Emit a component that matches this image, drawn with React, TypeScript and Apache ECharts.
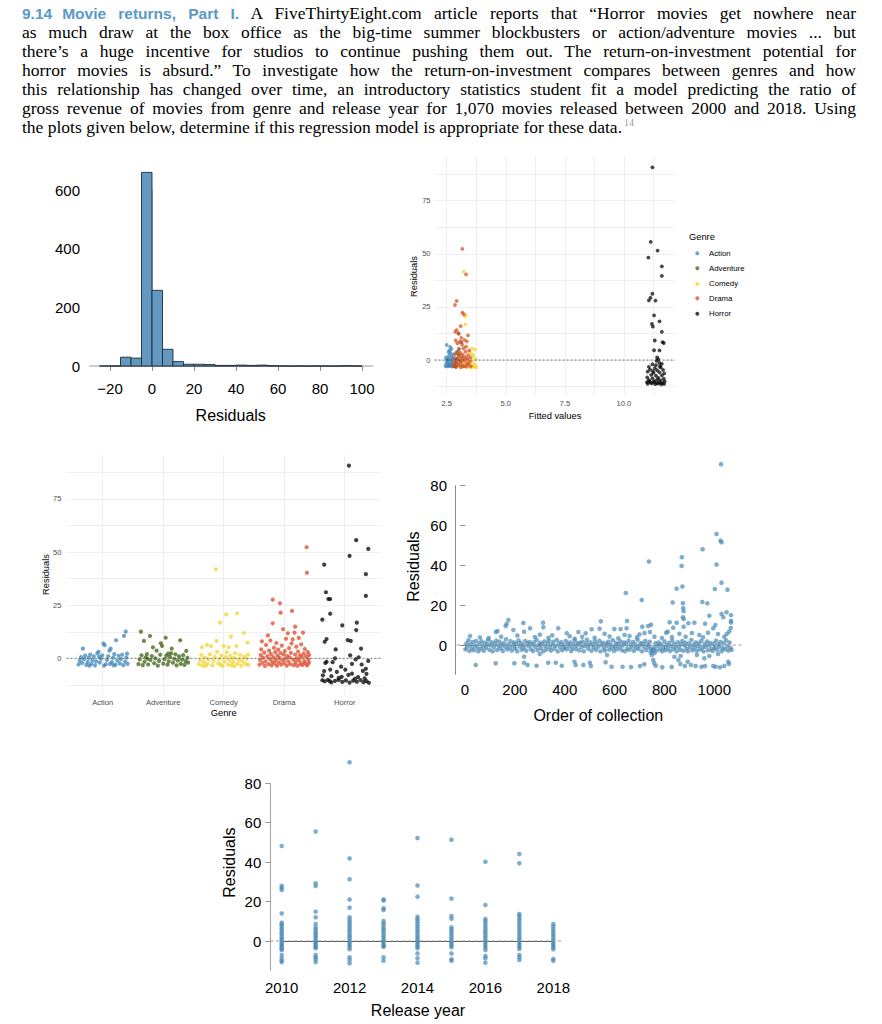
import React, { useEffect, useRef } from 'react';
import * as echarts from 'echarts';

const SANS = '"Liberation Sans", Arial, Helvetica, sans-serif';
const SERIF = '"Liberation Serif", "Times New Roman", serif';

// ---------------- Paragraph text ----------------
const HEADING_NUM = '9.14';
const HEADING_TITLE = 'Movie returns, Part I.';
const PARA_FIRST = 'A FiveThirtyEight.com article reports that \u201CHorror movies get nowhere near';
const PARA_LINES = [
  'as much draw at the box office as the big-time summer blockbusters or action/adventure movies ... but',
  'there\u2019s a huge incentive for studios to continue pushing them out. The return-on-investment potential for',
  'horror movies is absurd.\u201D To investigate how the return-on-investment compares between genres and how',
  'this relationship has changed over time, an introductory statistics student fit a model predicting the ratio of',
  'gross revenue of movies from genre and release year for 1,070 movies released between 2000 and 2018. Using',
];
const PARA_LAST = 'the plots given below, determine if this regression model is appropriate for these data.';
const FOOTNOTE = '14';

// ---------------- Histogram ----------------
const HIST_EDGES = [-25, -20, -15, -10, -5, 0, 5, 10, 15, 20, 25, 30, 35, 40, 45, 50, 55, 60, 65, 70, 75, 80, 85, 90, 95, 100];
const HIST_COUNTS = [0, 0, 30, 27, 660, 258, 57, 15, 6, 6, 5, 2, 2, 3, 2, 3, 1, 0, 0, 0, 0, 0, 0, 1, 0];
const HIST_BASELINE = [[-30, 0], [105.4, 0]];

// ---------------- Genres ----------------
const GENRES = ['Action', 'Adventure', 'Comedy', 'Drama', 'Horror'];
const GENRE_COLORS = ['#3d87b8', '#3f6312', '#f0d530', '#dd4a28', '#000000'];

// Fitted values vs residuals: [fitted, residual]
const FIT_ACTION = [[2.45, -2.8], [2.48, -1.5], [2.5, 0.2], [2.47, 1.2], [2.52, -3.0], [2.55, -2.2], [2.56, -0.8], [2.58, 0.9], [2.6, 2.1], [2.62, -2.9], [2.63, -1.6], [2.65, 0.3], [2.66, 3.2], [2.68, -2.4], [2.7, -0.5], [2.72, 1.5], [2.73, -3.1], [2.75, -1.9], [2.76, 0.6], [2.78, 2.6], [2.8, -2.6], [2.82, -1.1], [2.5, 7.1], [2.65, 6.2], [2.62, 4.5], [2.7, 5.2], [2.58, 3.8], [2.85, -2.8], [2.88, 0.4], [2.53, -0.3], [2.6, -2.5], [2.74, -2.7]];
const FIT_ADVENTURE = [[2.85, -2.9], [2.9, -1.2], [2.95, 0.8], [3.0, 2.4], [3.05, -2.2], [3.1, -0.4], [3.15, 1.6], [3.2, -3.0], [2.92, 3.6], [3.02, 5.2], [3.12, 8.4], [3.0, 12.4], [3.18, -2.6], [2.88, -3.2], [3.08, 0.2]];
const FIT_COMEDY = [[3.0, -3.0], [3.05, -1.8], [3.1, 0.5], [3.15, 2.2], [3.2, -2.6], [3.25, -0.9], [3.3, 1.3], [3.35, -3.3], [3.4, -1.4], [3.45, 0.2], [3.5, 2.8], [3.55, -2.5], [3.6, -0.6], [3.62, 1.7], [3.65, -3.2], [3.68, -1.9], [3.72, 0.4], [3.75, -3.5], [3.7, -2.8], [3.58, 5.5], [3.7, 4.9], [3.48, 3.8], [3.22, 41.6], [3.27, 20.6], [3.3, 21.0], [3.29, 16.8], [3.35, 6.4], [3.52, -3.6], [3.42, -2.8], [3.6, 2.6]];
const FIT_DRAMA = [[2.78, -2.9], [2.8, -1.0], [2.84, 0.9], [2.86, 2.8], [2.9, -3.2], [2.92, -1.8], [2.95, 0.3], [2.98, 4.1], [3.0, -2.4], [3.02, -0.6], [3.05, 1.8], [3.08, 3.4], [3.1, -3.4], [3.12, -1.3], [3.15, 0.7], [3.18, 2.5], [3.2, 5.4], [3.22, -2.7], [3.25, -0.2], [3.28, 1.3], [3.3, 3.9], [3.32, -3.1], [3.35, -1.6], [3.38, 0.5], [3.4, 2.2], [3.42, -2.0], [3.45, 4.5], [3.48, -0.9], [3.5, 1.1], [3.52, -3.0], [2.95, 7.8], [3.05, 8.6], [3.15, 7.2], [3.35, 8.8], [3.25, 9.5], [3.4, 11.6], [2.92, 14.1], [2.86, 13.3], [3.0, 12.5], [3.09, 16.0], [3.16, 22.3], [3.22, 21.6], [2.92, 27.8], [2.85, 25.9], [3.16, 52.3], [3.32, 40.3], [3.12, 10.4], [2.88, 9.2], [3.3, 6.2]];
const FIT_HORROR = [[11.2, 90.7], [11.13, 55.6], [11.42, 51.5], [11.03, 48.2], [11.6, 44.1], [11.6, 39.6], [11.2, 31.2], [11.12, 29.3], [11.05, 28.1], [11.33, 28.0], [11.27, 21.0], [11.18, 17.0], [11.22, 15.7], [11.5, 18.2], [11.6, 13.3], [11.3, 9.2], [11.63, 8.4], [11.68, 8.0], [11.27, 4.6], [11.5, 4.5], [11.4, 1.2], [11.45, 0.3], [11.38, -0.4], [11.5, -1.4], [11.6, -1.8], [11.2, -2.0], [11.05, -3.2], [11.3, -3.8], [11.55, -3.5], [11.1, -4.5], [11.4, -4.8], [11.65, -4.6], [11.0, -5.5], [11.25, -6.0], [11.5, -5.8], [11.7, -6.3], [11.15, -7.0], [11.35, -7.4], [11.6, -7.2], [10.98, -8.2], [11.2, -8.6], [11.45, -8.4], [11.68, -8.8], [11.05, -9.5], [11.3, -9.8], [11.55, -9.6], [11.72, -10.0], [10.97, -10.4], [11.12, -10.6], [11.25, -10.3], [11.38, -10.8], [11.5, -10.5], [11.62, -10.9], [11.0, -11.2], [11.18, -11.0], [11.32, -11.3], [11.45, -11.1], [11.58, -11.4], [11.7, -11.2], [11.08, -10.0], [11.42, -9.2], [11.22, -5.2], [11.52, -3.0], [11.35, -2.4]];
const FIT_DATA = [FIT_ACTION, FIT_ADVENTURE, FIT_COMEDY, FIT_DRAMA, FIT_HORROR];

// Residuals by genre: [jitter offset from genre position, residual]
const GEN_ACTION = [[-0.40, -2.9], [-0.38, -1.2], [-0.36, 0.6], [-0.34, -2.2], [-0.33, 4.6], [-0.31, -0.4], [-0.29, 1.3], [-0.27, -3.1], [-0.25, -1.7], [-0.23, 0.2], [-0.21, 1.8], [-0.19, -2.6], [-0.17, -0.9], [-0.15, 0.9], [-0.13, -3.3], [-0.11, -1.4], [-0.09, 2.3], [-0.07, 3.1], [-0.05, -2.0], [-0.03, -0.2], [-0.01, 1.4], [0.01, 7.0], [0.03, 6.2], [0.05, -2.8], [0.07, -0.7], [0.09, 1.0], [0.11, 3.6], [0.13, 4.6], [0.15, -1.8], [0.17, 0.3], [0.19, 2.0], [0.21, -3.0], [0.22, 8.5], [0.24, -1.0], [0.26, 1.2], [0.28, -2.4], [0.30, -0.3], [0.32, 1.7], [0.34, -3.2], [0.35, 10.6], [0.37, -1.5], [0.38, 12.6], [0.39, 0.4], [0.41, -2.6], [0.40, 2.2], [-0.22, -3.5], [0.02, -3.4], [0.18, -3.3], [-0.06, 0.7], [0.12, -2.6]];
const GEN_ADVENTURE = [[-0.41, -2.7], [-0.39, -0.5], [-0.37, 12.6], [-0.36, 1.4], [-0.34, -3.2], [-0.32, 8.2], [-0.31, -1.6], [-0.29, 0.5], [-0.27, 2.0], [-0.25, -2.9], [-0.22, 10.5], [-0.21, -0.8], [-0.19, 1.1], [-0.17, 5.2], [-0.15, -2.3], [-0.13, 0.0], [-0.11, 3.6], [-0.09, -3.4], [-0.07, -1.2], [-0.05, 1.7], [-0.04, 7.1], [-0.02, 5.8], [0.00, -2.5], [0.02, -0.4], [0.04, 9.7], [0.05, 1.3], [0.07, -3.0], [0.09, -1.4], [0.11, 0.7], [0.13, 2.4], [0.14, 4.6], [0.16, -2.1], [0.18, -0.2], [0.20, 1.9], [0.22, -3.3], [0.24, -1.0], [0.26, 0.9], [0.28, 8.5], [0.29, -2.6], [0.31, -0.6], [0.33, 1.5], [0.35, -3.1], [0.37, -1.3], [0.38, 3.5], [0.40, 0.3], [0.41, -2.0], [-0.26, -0.2], [0.08, 2.2]];
const GEN_COMEDY = [[-0.41, -2.8], [-0.39, -0.9], [-0.37, 1.6], [-0.36, 5.2], [-0.35, -3.4], [-0.33, -1.7], [-0.31, 0.4], [-0.28, 6.3], [-0.27, -2.6], [-0.25, -0.5], [-0.23, 1.9], [-0.21, 5.8], [-0.19, -3.2], [-0.17, -1.2], [-0.15, 0.8], [-0.13, 41.9], [-0.12, 8.2], [-0.11, 3.1], [-0.09, -2.4], [-0.07, -0.3], [-0.06, 16.8], [-0.04, 1.4], [-0.02, -3.6], [0.00, 5.8], [0.01, -1.5], [0.03, 0.6], [0.04, 20.7], [0.05, 2.8], [0.07, -2.9], [0.08, 5.2], [0.09, -0.8], [0.11, 1.2], [0.12, 10.2], [0.13, -3.3], [0.15, -1.8], [0.17, 0.2], [0.19, 2.4], [0.21, 5.8], [0.22, 21.2], [0.23, -2.5], [0.25, -0.6], [0.27, 1.5], [0.29, -3.5], [0.31, -1.4], [0.33, 11.9], [0.34, 0.7], [0.36, -2.7], [0.38, -0.2], [0.39, 7.4], [0.40, 1.8], [0.41, -3.1], [-0.3, -3.6], [0.18, -3.7], [-0.05, -3.0]];
const GEN_DRAMA = [[-0.41, -3.0], [-0.40, -0.8], [-0.39, 1.5], [-0.38, 4.2], [-0.37, 8.0], [-0.36, -2.2], [-0.35, 0.3], [-0.33, 2.7], [-0.32, -3.6], [-0.31, -1.4], [-0.30, 6.3], [-0.28, 1.0], [-0.27, 10.8], [-0.26, -2.7], [-0.25, 3.6], [-0.24, -0.3], [-0.23, 8.4], [-0.22, 2.0], [-0.21, -3.3], [-0.20, -1.6], [-0.19, 27.6], [-0.19, 16.5], [-0.18, 0.6], [-0.17, 5.0], [-0.16, -2.4], [-0.15, 2.9], [-0.14, -0.7], [-0.13, 7.2], [-0.12, -3.5], [-0.11, 1.3], [-0.10, 4.1], [-0.09, -1.9], [-0.08, 0.2], [-0.07, 25.9], [-0.06, 21.5], [-0.06, 2.5], [-0.05, -3.0], [-0.04, 6.0], [-0.03, -0.9], [-0.02, 13.7], [-0.01, 1.7], [0.00, -2.2], [0.01, 3.4], [0.02, -0.2], [0.03, 9.2], [0.04, -3.4], [0.05, 1.1], [0.06, 11.8], [0.07, -1.5], [0.08, 4.8], [0.09, 0.4], [0.10, -2.8], [0.11, 2.6], [0.12, 7.0], [0.13, 22.3], [0.14, 8.9], [0.15, -0.6], [0.16, -3.2], [0.17, 12.1], [0.18, 14.9], [0.18, 1.8], [0.19, -1.8], [0.20, 5.5], [0.21, 0.0], [0.22, -3.5], [0.23, 3.2], [0.24, 9.6], [0.25, -1.0], [0.26, 1.4], [0.27, -2.6], [0.28, 6.6], [0.29, 0.7], [0.30, -3.1], [0.31, 12.1], [0.32, 2.3], [0.33, -1.3], [0.34, 4.4], [0.35, -2.4], [0.36, 0.9], [0.37, 52.3], [0.375, 40.3], [0.38, -3.3], [0.39, 3.0], [0.40, -0.5], [0.41, -2.0], [0.41, 1.6]];
const GEN_HORROR = [[0.07, 90.7], [0.19, 55.6], [0.39, 51.5], [0.08, 48.2], [-0.34, 44.1], [0.35, 39.6], [-0.31, 31.1], [-0.27, 27.9], [-0.24, 27.9], [0.35, 29.4], [-0.24, 21.0], [-0.37, 18.2], [-0.04, 15.5], [0.20, 16.8], [0.19, 13.3], [-0.33, 7.8], [-0.30, 9.1], [0.05, 8.6], [0.10, 8.2], [-0.15, 4.2], [0.27, 4.6], [0.09, 1.4], [-0.16, 0.0], [0.23, 0.5], [0.18, -0.5], [-0.30, -1.6], [-0.32, -2.2], [-0.20, -1.8], [-0.06, -3.9], [0.12, -2.6], [0.35, -4.9], [-0.34, -6.0], [-0.24, -5.3], [-0.13, -6.4], [0.01, -5.3], [0.12, -7.2], [0.30, -5.9], [0.36, -7.3], [-0.36, -8.0], [-0.22, -8.4], [-0.05, -8.7], [0.06, -7.8], [0.22, -8.8], [-0.37, -10.3], [-0.33, -10.8], [-0.28, -10.1], [-0.22, -11.3], [-0.16, -10.6], [-0.10, -10.2], [-0.04, -11.1], [0.02, -10.4], [0.08, -11.4], [0.14, -10.5], [0.20, -11.0], [0.26, -10.2], [0.31, -11.2], [0.36, -10.7], [0.40, -11.5], [-0.25, -10.7], [0.17, -9.6], [0.33, -9.4], [-0.1, -9.2], [0.28, -2.9], [0.39, -1.2]];
const GEN_DATA = [GEN_ACTION, GEN_ADVENTURE, GEN_COMEDY, GEN_DRAMA, GEN_HORROR];

// Residuals vs order of collection: [order, residual]
const ORDER_BAND = [[2, -2.2], [6, 0.9], [10, -0.8], [14, 2.4], [18, -3.0], [22, 0.2], [27, -1.6], [31, 1.5], [35, -2.6], [40, -0.3], [44, 2.0], [49, -1.2], [53, -3.2], [57, 0.8], [62, -2.0], [66, 1.8], [71, -0.6], [75, -2.9], [80, 1.1], [84, -1.4], [89, 0.3], [93, 2.6], [98, -2.4], [102, -0.1], [107, 1.4], [111, -3.1], [116, -1.0], [120, 0.7], [125, 2.2], [129, -2.5], [134, -0.4], [138, 1.6], [143, -1.8], [147, 0.1], [152, -3.0], [156, 1.0], [161, -0.9], [165, 2.9], [170, -2.2], [174, 0.4], [179, -1.3], [183, 1.9], [188, -2.8], [192, -0.2], [197, 1.2], [201, -1.7], [206, 0.6], [210, -3.2], [215, 2.3], [219, -0.7], [224, 1.0], [228, -2.4], [233, 0.0], [237, -1.5], [242, 2.0], [246, -2.9], [251, 0.8], [255, -0.5], [260, 1.5], [264, -2.1], [269, 0.3], [273, -3.0], [278, 1.3], [282, -0.9], [287, 2.7], [291, -2.5], [296, -0.1], [300, 1.1], [305, -1.6], [309, 0.5], [314, -3.1], [318, 1.8], [323, -0.6], [327, -2.3], [332, 0.9], [336, 2.2], [341, -1.2], [345, -2.8], [350, 0.2], [354, 1.6], [359, -1.9], [363, -0.4], [368, 2.5], [372, -3.2], [377, 0.7], [381, -1.1], [386, 1.4], [390, -2.6], [395, 0.0], [399, -1.4], [404, 2.0], [408, -2.2], [413, 0.6], [417, -0.8], [422, 1.2], [426, -3.0], [431, -1.5], [435, 0.4], [440, 2.3], [444, -2.0], [449, -0.3], [453, 1.0], [458, -2.7], [462, 0.9], [467, -1.0], [471, 1.7], [476, -3.1], [480, -0.5], [485, 0.7], [489, 2.6], [494, -1.8], [498, -0.1], [503, 1.3], [507, -2.9], [512, 0.2], [516, -1.2], [521, 1.9], [525, -2.4], [530, 0.5], [534, -0.9], [539, 2.2], [543, -3.2], [548, 0.0], [552, 1.1], [557, -1.6], [561, -2.8], [566, 0.8], [570, -0.4], [575, 1.6], [579, -2.3], [584, 0.3], [588, -1.4], [593, 2.4], [597, -3.0], [602, -0.6], [606, 1.0], [611, -2.1], [615, 0.5], [620, -1.0], [624, 1.8], [629, -2.6], [633, -0.2], [638, 1.3], [642, -3.1], [647, 0.6], [651, -1.7], [656, 2.1], [660, -2.4], [665, 0.1], [669, -0.9], [674, 1.5], [678, -2.9], [683, 0.4], [687, -1.3], [692, 2.6], [696, -2.0], [701, -0.3], [705, 1.0], [710, -3.2], [714, 0.7], [719, -1.1], [723, 2.0], [728, -2.5], [732, 0.2], [737, -0.7], [741, 1.6], [746, -1.9], [750, -3.0], [755, -2.5], [759, -1.5], [764, 0.9], [768, -2.8], [773, -0.4], [777, 1.2], [782, -2.2], [786, 0.3], [791, -3.1], [795, -1.2], [800, 1.8], [804, -2.6], [809, 0.0], [813, -1.6], [818, 1.0], [822, -3.0], [827, -0.5], [831, 2.3], [836, -2.1], [840, 0.6], [845, -1.1], [849, -3.2], [854, 1.4], [858, -0.8], [863, -2.4], [867, 0.4], [872, 2.0], [876, -2.9], [881, -0.2], [885, 1.1], [890, -1.8], [894, -3.1], [899, 0.8], [903, -1.0], [908, 2.5], [912, -2.6], [917, 0.1], [921, -1.5], [926, 1.3], [930, -3.0], [935, -0.6], [939, 0.9], [944, -2.2], [948, 2.1], [953, -1.3], [957, -3.2], [962, 0.5], [966, -0.9], [971, 1.7], [975, -2.7], [980, -0.1], [984, 1.0], [989, -1.9], [993, -3.0], [998, 0.7], [1002, -1.2], [1007, 2.2], [1011, -2.4], [1016, 0.3], [1020, -0.8], [1025, 1.5], [1029, -3.1], [1034, -1.6], [1038, 0.9], [1043, -2.2], [1047, 2.4], [1052, -0.5], [1056, -2.8], [1061, 1.2], [1065, -1.4], [1069, -2.5]];
const ORDER_SPREAD = [[174, 12.6], [167, 10.6], [163, 9.5], [130, 7.0], [124, 6.5], [234, 11.1], [313, 11.2], [314, 8.9], [261, 8.4], [237, 6.7], [194, 7.5], [374, 8.4], [408, 5.9], [455, 6.5], [484, 5.9], [545, 11.9], [540, 8.2], [508, 7.9], [599, 8.0], [624, 8.0], [650, 12.1], [648, 8.4], [711, 9.2], [735, 9.5], [746, 10.2], [813, 6.7], [896, 10.9], [996, 8.4], [20, 4.5], [60, 3.8], [95, 3.5], [145, 4.2], [210, 4.8], [280, 4.0], [300, 5.2], [335, 3.6], [350, 4.9], [420, 4.4], [440, 3.2], [470, 4.1], [520, 3.6], [560, 5.6], [580, 4.3], [615, 3.4], [640, 5.0], [660, 4.5], [690, 3.9], [700, 5.3], [720, 6.0], [742, 6.5], [760, 4.2], [790, 3.5], [830, 4.0], [860, 5.6], [885, 4.2], [910, 6.0], [940, 5.0], [955, 3.9], [975, 6.2], [1015, 5.5], [1040, 4.2], [1060, 6.8], [1066, 8.5], [1050, 5.5], [1027, 90.8], [1009, 55.8], [1025, 52.4], [1029, 51.6], [953, 48.1], [870, 44.1], [869, 39.7], [738, 41.9], [1009, 40.4], [1029, 31.3], [849, 28.3], [872, 29.4], [1002, 28.1], [1053, 27.8], [645, 26.1], [709, 22.6], [952, 21.6], [972, 20.9], [874, 21.0], [833, 21.4], [875, 18.4], [877, 17.0], [980, 14.7], [1029, 15.6], [1049, 16.4], [1067, 15.0], [877, 13.1], [874, 13.9], [1036, 13.9], [1004, 10.1], [877, 9.2], [920, 11.2], [963, 10.7], [1067, 12.2], [1067, 11.3], [849, 11.2], [821, 11.4], [835, 8.7], [807, 6.2], [43, -10.0], [123, -9.2], [198, -9.2], [237, -5.9], [237, -8.9], [251, -10.0], [287, -10.4], [334, -8.9], [364, -8.9], [388, -10.4], [439, -8.4], [444, -10.0], [475, -10.0], [501, -8.9], [505, -10.6], [564, -8.7], [588, -10.9], [632, -10.9], [666, -11.1], [702, -10.6], [719, -9.7], [749, -5.0], [755, -7.5], [759, -9.2], [765, -10.4], [791, -11.2], [829, -11.0], [840, -5.9], [856, -7.5], [864, -9.5], [865, -5.5], [882, -10.6], [893, -8.4], [906, -10.0], [925, -10.6], [949, -10.9], [960, -6.7], [963, -10.6], [996, -10.6], [1005, -10.9], [1023, -11.2], [1056, -8.4], [1059, -9.5], [1040, -10.5], [1015, -4.5], [930, -5.0], [760, -4.0], [745, -3.8], [980, -5.5], [570, -5.0], [300, -4.5]];

// Residuals vs release year
const YEARS = [2010, 2011, 2012, 2013, 2014, 2015, 2016, 2017, 2018];
const YEAR_RESIDUALS = [
  [48.2, 28.0, 27.0, 25.9, 14.0, 9.3, 8.4, 7.6, 6.3, 5.5, 4.2, 3.4, 2.1, 1.3, 0.2, -0.6, -1.5, -2.4, -3.2, -4.1, -4.6, -7.1, -8.8, -10.0, -10.7],
  [55.5, 29.3, 27.9, 14.9, 12.0, 8.6, 6.9, 5.8, 4.6, 3.7, 2.5, 1.6, 0.4, -0.5, -1.4, -2.3, -3.1, -3.7, -7.1, -8.3, -9.3, -10.7],
  [90.7, 41.9, 31.3, 21.1, 16.9, 12.0, 10.8, 9.5, 8.3, 7.1, 5.9, 4.8, 3.6, 2.4, 1.3, 0.1, -0.9, -2.0, -3.1, -4.2, -8.3, -9.6, -11.3],
  [21.1, 20.5, 16.6, 15.7, 10.1, 9.0, 7.8, 6.5, 5.4, 4.2, 3.0, 1.9, 0.7, -0.4, -1.5, -2.5, -2.9, -8.3, -10.0],
  [52.2, 28.1, 22.5, 12.3, 11.2, 10.0, 8.7, 7.5, 6.2, 5.1, 3.9, 2.7, 1.6, 0.5, -0.6, -1.8, -2.8, -3.7, -6.3, -8.8, -11.0],
  [51.4, 21.5, 12.7, 11.3, 6.9, 5.8, 4.7, 3.5, 2.3, 1.1, 0.0, -1.1, -2.2, -3.2, -6.3, -9.3, -10.0],
  [40.2, 18.3, 11.2, 10.1, 8.9, 7.6, 6.4, 5.2, 4.0, 2.8, 1.6, 0.4, -0.8, -2.0, -3.3, -4.6, -7.6, -8.8, -11.0],
  [44.1, 39.4, 13.7, 12.8, 11.6, 10.4, 9.1, 7.9, 6.6, 5.4, 4.1, 2.9, 1.7, 0.5, -0.7, -1.9, -3.1, -4.0, -7.1, -8.3, -9.6],
  [8.6, 7.4, 6.1, 4.9, 3.7, 2.5, 1.3, 0.1, -1.0, -2.1, -3.2, -4.2, -9.1, -10.0],
];

const LEGEND_Y = [253.3, 268.3, 283.7, 298.3, 313.7];
const POINT_BLUE = '#4a8ab5';

function axisFmtMinus(v: number) {
  return v < 0 ? '\u2212' + Math.abs(v) : String(v);
}

function titleText(text: string, x: number, y: number, size: number, rotate = false) {
  return {
    type: 'text',
    x,
    y,
    rotation: rotate ? Math.PI / 2 : 0,
    silent: true,
    style: { text, fontSize: size, fontFamily: SANS, fill: '#000', align: 'center', verticalAlign: 'middle' },
  };
}

function scatter(name: string, data: number[][], idx: number, color: string, size: number, opacity: number, z = 3) {
  return {
    type: 'scatter',
    name,
    data,
    xAxisIndex: idx,
    yAxisIndex: idx,
    symbolSize: size,
    itemStyle: { color, opacity },
    clip: false,
    silent: true,
    z,
  };
}

// Reference line drawn through the axis scales (custom series so the dash pattern is exact)
function refLine(ends: number[][], idx: number, color: string, width: number, dash: number[] | null, z = 6) {
  return {
    type: 'custom',
    xAxisIndex: idx,
    yAxisIndex: idx,
    data: [[ends[0][0], ends[0][1], ends[1][0], ends[1][1]]],
    silent: true,
    z,
    renderItem: (params: any, api: any) => {
      const a = api.coord([api.value(0), api.value(1)]);
      const b = api.coord([api.value(2), api.value(3)]);
      return {
        type: 'line',
        shape: { x1: a[0], y1: a[1], x2: b[0], y2: b[1] },
        style: { stroke: color, lineWidth: width, lineDash: dash || undefined, fill: null },
      };
    },
  };
}

const ggTick = { fontSize: 7.6, color: '#4d4d4d', fontFamily: SANS };
const ggGrid = { show: true, lineStyle: { color: '#ebebeb', width: 0.8 } };
const baseLabel = { fontSize: 15, color: '#000', fontFamily: SANS };

function buildOption() {
  const grids = [
    { left: 110, top: 190, width: 252, height: 176 }, // 0 histogram
    { left: 434.6, top: 174.1, width: 240.5, height: 212.5 }, // 1 fitted (h lines + data)
    { left: 446.7, top: 156.5, width: 206.8, height: 238.5 }, // 2 fitted (v lines)
    { left: 66.5, top: 472.4, width: 314.5, height: 212.5 }, // 3 genre (h lines + data)
    { left: 102.7, top: 455, width: 242, height: 239 }, // 4 genre (v lines)
    { left: 465, top: 485.7, width: 249.3, height: 159.3 }, // 5 order
    { left: 455, top: 485.7, width: 1, height: 188.6 }, // 6 order y-axis line
    { left: 281.7, top: 783.3, width: 271.6, height: 157.7 }, // 7 year
    { left: 270.3, top: 783.3, width: 1, height: 187.4 }, // 8 year y-axis line
  ].map((g) => ({ ...g, containLabel: false, outerBoundsMode: 'none', show: false }));

  const hidden = (gi: number, min: number, max: number) => ({ gridIndex: gi, type: 'value', show: false, min, max, splitLine: { show: false } });

  const xAxis: any[] = [
    {
      gridIndex: 0, type: 'value', min: -20, max: 100, interval: 20, offset: 9,
      axisLine: { show: true, lineStyle: { color: '#8c8c8c', width: 1 } },
      axisTick: { show: true, length: 5, lineStyle: { color: '#8c8c8c' } },
      axisLabel: { ...baseLabel, margin: 6, formatter: axisFmtMinus },
      splitLine: { show: false },
    },
    hidden(1, 1.988, 12.16),
    {
      gridIndex: 2, type: 'value', min: 2.5, max: 11.25, interval: 1.25,
      axisLine: { show: false }, axisTick: { show: false },
      axisLabel: { ...ggTick, margin: 4, formatter: (v: number) => (Math.abs(v / 2.5 - Math.round(v / 2.5)) < 1e-6 ? v.toFixed(1) : '') },
      splitLine: ggGrid,
    },
    hidden(3, 0.4, 5.6),
    {
      gridIndex: 4, type: 'value', min: 1, max: 5, interval: 1,
      axisLine: { show: false }, axisTick: { show: false },
      axisLabel: { ...ggTick, margin: 4, formatter: (v: number) => GENRES[Math.round(v) - 1] || '' },
      splitLine: ggGrid,
    },
    {
      gridIndex: 5, type: 'value', min: 0, max: 1000, interval: 200, offset: 30.5,
      axisLine: { show: true, lineStyle: { color: '#aaaaaa', width: 1 } },
      axisTick: { show: true, length: 5, lineStyle: { color: '#888' } },
      axisLabel: { ...baseLabel, margin: 6, formatter: (v: number) => String(v) },
      splitLine: { show: false },
    },
    hidden(6, 0, 1),
    {
      gridIndex: 7, type: 'value', min: 2010, max: 2018, interval: 1, offset: 29.7,
      axisLine: { show: true, lineStyle: { color: '#555', width: 1 } },
      axisTick: { show: true, length: 7, lineStyle: { color: '#555' } },
      axisLabel: { ...baseLabel, margin: 9, formatter: (v: number) => (v % 2 === 0 ? String(v) : '') },
      splitLine: { show: false },
    },
    hidden(8, 0, 1),
  ];

  const yAxis: any[] = [
    {
      gridIndex: 0, type: 'value', min: 0, max: 600, interval: 200, offset: 21,
      axisLine: { show: true, lineStyle: { color: '#c4c4c4', width: 1 } },
      axisTick: { show: true, length: 5, lineStyle: { color: '#999' } },
      axisLabel: { ...baseLabel, margin: 9 },
      splitLine: { show: false },
    },
    {
      gridIndex: 1, type: 'value', min: -12.5, max: 87.5, interval: 12.5,
      axisLine: { show: false }, axisTick: { show: false },
      axisLabel: { ...ggTick, margin: 4, formatter: (v: number) => (v % 25 === 0 ? String(v) : '') },
      splitLine: ggGrid,
    },
    hidden(2, 0, 1),
    {
      gridIndex: 3, type: 'value', min: -12.5, max: 87.5, interval: 12.5,
      axisLine: { show: false }, axisTick: { show: false },
      axisLabel: { ...ggTick, margin: 5, formatter: (v: number) => (v % 25 === 0 ? String(v) : '') },
      splitLine: ggGrid,
    },
    hidden(4, 0, 1),
    {
      gridIndex: 5, type: 'value', min: 0, max: 80, interval: 20, offset: 10,
      axisLine: { show: false },
      axisTick: { show: true, length: 5, lineStyle: { color: '#888' } },
      axisLabel: { ...baseLabel, margin: 8 },
      splitLine: { show: false },
    },
    {
      gridIndex: 6, type: 'value', min: 0, max: 1,
      axisLine: { show: true, lineStyle: { color: '#8a8a8a', width: 1 } },
      axisTick: { show: false }, axisLabel: { show: false }, splitLine: { show: false },
    },
    {
      gridIndex: 7, type: 'value', min: 0, max: 80, interval: 20, offset: 11.4,
      axisLine: { show: false },
      axisTick: { show: true, length: 5, lineStyle: { color: '#999' } },
      axisLabel: { ...baseLabel, margin: 9 },
      splitLine: { show: false },
    },
    {
      gridIndex: 8, type: 'value', min: 0, max: 1,
      axisLine: { show: true, lineStyle: { color: '#a0a0a0', width: 1 } },
      axisTick: { show: false }, axisLabel: { show: false }, splitLine: { show: false },
    },
  ];

  const histData = HIST_COUNTS.map((c, i) => [HIST_EDGES[i], HIST_EDGES[i + 1], c]);

  const series: any[] = [];
  // Histogram
  series.push(refLine(HIST_BASELINE, 0, '#9a9a9a', 1, null, 1));
  series.push({
    type: 'custom',
    xAxisIndex: 0,
    yAxisIndex: 0,
    data: histData,
    encode: { x: [0, 1], y: 2 },
    silent: true,
    z: 3,
    renderItem: (params: any, api: any) => {
      const p0 = api.coord([api.value(0), api.value(2)]);
      const p1 = api.coord([api.value(1), 0]);
      return {
        type: 'rect',
        shape: { x: p0[0], y: p0[1], width: p1[0] - p0[0], height: p1[1] - p0[1] },
        style: { fill: '#6399c0', stroke: '#1e2a36', lineWidth: 0.9 },
      };
    },
  });

  // Fitted values plot
  GENRES.forEach((g, i) => series.push(scatter(g, FIT_DATA[i], 1, GENRE_COLORS[i], 3.8, 0.72)));
  series.push(refLine([[1.988, 0], [12.16, 0]], 1, '#333', 0.7, [2, 2]));

  // Genre plot
  GENRES.forEach((g, i) =>
    series.push(scatter(g, GEN_DATA[i].map(([dx, r]) => [i + 1 + dx, r]), 3, GENRE_COLORS[i], 4.2, 0.75)),
  );
  series.push(refLine([[0.4, 0], [5.6, 0]], 3, '#444', 0.7, [2, 2]));

  // Order plot
  series.push(scatter('order', [...ORDER_BAND, ...ORDER_SPREAD], 5, POINT_BLUE, 4.6, 0.7));
  series.push(refLine([[-33, 0], [1110, 0]], 5, '#999', 1, [3, 3]));

  // Year plot
  const yearData: number[][] = [];
  YEARS.forEach((y, i) => YEAR_RESIDUALS[i].forEach((r) => yearData.push([y, r])));
  series.push(scatter('year', yearData, 7, POINT_BLUE, 4.6, 0.7));
  series.push(refLine([[2009.66, 0], [2018.28, 0]], 7, '#999', 1, [3, 3]));

  const graphic: any[] = [
    titleText('Residuals', 230.7, 415, 16),
    titleText('Fitted values', 555, 415.5, 9.3),
    titleText('Residuals', 413.5, 276.5, 9.3, true),
    { type: 'text', x: 689, y: 236.7, silent: true, style: { text: 'Genre', fontSize: 9.3, fontFamily: SANS, fill: '#000', align: 'left', verticalAlign: 'middle' } },
    ...GENRES.map((g, i) => ({ type: 'circle', silent: true, shape: { cx: 697.3, cy: LEGEND_Y[i], r: 2 }, style: { fill: GENRE_COLORS[i], opacity: 0.75 } })),
    ...GENRES.map((g, i) => ({ type: 'text', x: 709, y: LEGEND_Y[i], silent: true, style: { text: g, fontSize: 7.8, fontFamily: SANS, fill: '#000', align: 'left', verticalAlign: 'middle' } })),
    titleText('Genre', 223.7, 712.7, 9.3),
    titleText('Residuals', 45.5, 574.5, 9.3, true),
    titleText('Residuals', 413.3, 566.7, 16, true),
    titleText('Order of collection', 598.3, 715, 16),
    titleText('Residuals', 229.3, 862.6, 16, true),
    titleText('Release year', 418, 1010, 16),
  ];

  return {
    animation: false,
    backgroundColor: '#ffffff',
    textStyle: { fontFamily: SANS },
    grid: grids,
    xAxis,
    yAxis,
    series,
    graphic,
  };
}

export default function App() {
  const ref = useRef<HTMLDivElement>(null);
  useEffect(() => {
    if (!ref.current) return;
    const chart = echarts.init(ref.current, null, { renderer: 'svg' });
    chart.setOption(buildOption() as any);
    return () => chart.dispose();
  }, []);

  const lineStyle: React.CSSProperties = {
    height: 19,
    lineHeight: '19px',
    textAlign: 'justify',
    textAlignLast: 'justify' as any,
  };

  return (
    <div style={{ position: 'absolute', left: 0, top: 0, width: 882, height: 1024, background: '#fff', overflow: 'hidden' }}>
      <div ref={ref} style={{ position: 'absolute', left: 0, top: 0, width: 882, height: 1024 }} />
      <div
        style={{
          position: 'absolute',
          left: 22,
          top: 4,
          width: 834,
          fontFamily: SERIF,
          fontSize: 17.5,
          color: '#000',
          zIndex: 2,
        }}
      >
        <div style={lineStyle}>
          <span style={{ fontFamily: SANS, fontWeight: 700, color: '#5a9ac6', fontSize: 15.5 }}>
            {HEADING_NUM}
            <span style={{ display: 'inline-block', width: 10 }} />
            {HEADING_TITLE}
          </span>{' '}
          {PARA_FIRST}
        </div>
        {PARA_LINES.map((l, i) => (
          <div key={i} style={lineStyle}>
            {l}
          </div>
        ))}
        <div style={{ height: 19, lineHeight: '19px', textAlign: 'left' }}>
          {PARA_LAST}
          <sup style={{ fontSize: 10, color: '#999', lineHeight: 0, verticalAlign: 'super', marginLeft: 2 }}>{FOOTNOTE}</sup>
        </div>
      </div>
    </div>
  );
}
